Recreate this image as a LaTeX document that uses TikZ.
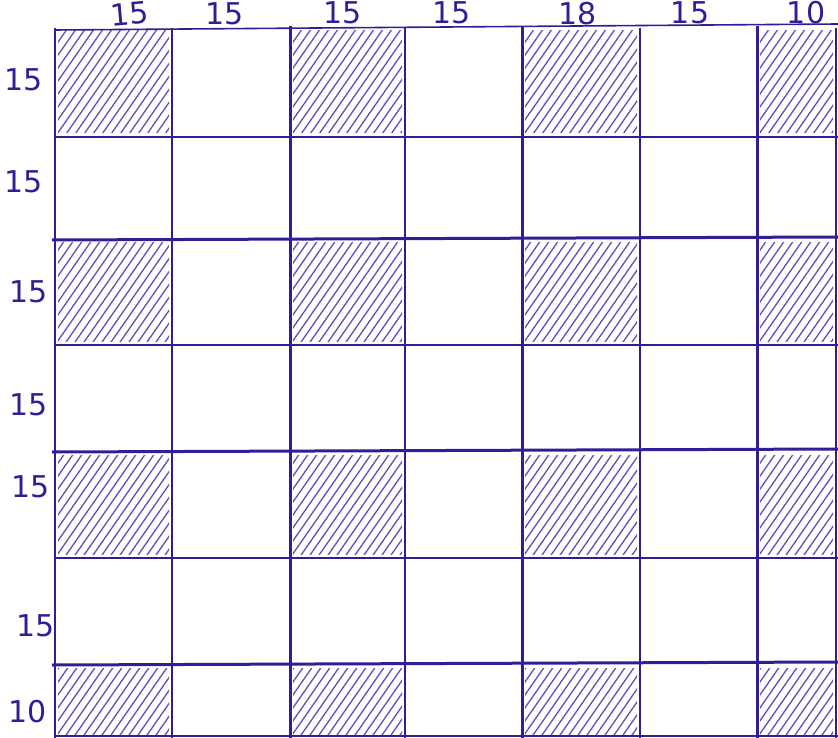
\documentclass[tikz,border=0pt]{standalone}
\usepackage{fontspec}
\setmainfont{DejaVu Sans}
\definecolor{pen}{RGB}{48,30,150}
\definecolor{hatchc}{RGB}{95,80,190}
\begin{document}
\begin{tikzpicture}[x=1pt,y=-1pt,
  thinline/.style={draw=pen,line width=1.1pt},
  thickline/.style={draw=pen,line width=3pt},
  hatch/.style={draw=hatchc,line width=1.3pt,line cap=round},
  lbl/.style={text=pen,font=\fontsize{30}{30}\selectfont,inner sep=0pt}]
\useasboundingbox[fill=white] (0,0) rectangle (838,738);
% hatched cells
\foreach \xa/\xb in {55/172,290/405,522/640,757/836}{
  \foreach \ya/\yb in {28/137,240/345,452/558,665/738}{
    \begin{scope}
      \clip (\xa+3,\ya+3) rectangle (\xb-3,\yb-4);
      \foreach \k in {0,...,22}{
        \draw[hatch] ({\xa-90+\k*9},\yb) -- ++(80,-115);
      }
    \end{scope}
  }
}
% thin vertical lines
\foreach \x in {55,172,405,640,836}{
  \draw[thinline] (\x,28) -- (\x,738);
}
% thin horizontal lines
\foreach \y in {137,345,558,736}{
  \draw[thinline] (55,\y) -- (838,\y);
}
\draw[thinline,line width=1.6pt] (55,30) -- (838,24);
% thick lines
\foreach \x in {290,522,757}{
  \draw[thickline] (\x,26) -- (\x,738);
}
\foreach \y in {240,452,665}{
  \draw[thickline] (52,\y) -- (838,\y-3);
}
% top labels
\node[lbl,rotate=5] (t1) at (130,14) {15};
\node[lbl] (t2) at (225,14) {15};
\node[lbl] (t3) at (343,13) {15};
\node[lbl] (t4) at (452,13) {15};
\node[lbl] (t5) at (578,14) {18};
\node[lbl] (t6) at (690,13) {15};
\node[lbl] (t7) at (806,13) {10};
% left labels
\node[lbl] (l1) at (24,80) {15};
\node[lbl] (l2) at (24,182) {15};
\node[lbl] (l3) at (29,292) {15};
\node[lbl] (l4) at (29,405) {15};
\node[lbl] (l5) at (31,487) {15};
\node[lbl] (l6) at (36,626) {15};
\node[lbl] (l7) at (28,712) {10};
\end{tikzpicture}
\end{document}
